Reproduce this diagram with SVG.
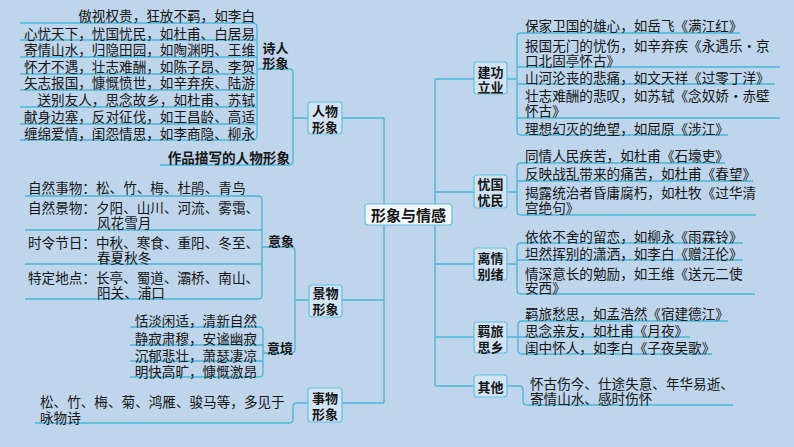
<svg xmlns="http://www.w3.org/2000/svg" width="794" height="447" viewBox="0 0 794 447">
<style>
.ln{stroke:#48b6d6;stroke-width:1.3;fill:none}
.box{fill:#d2e4f4;stroke:#62c2de;stroke-width:1.2}
.cbox{fill:#f2f7fc;stroke:#62c2de;stroke-width:1.2}
text{font-family:"Noto Sans CJK SC","Noto Sans CJK TC",sans-serif;fill:#161616;dominant-baseline:central}
.t{font-size:13.6px;font-weight:400}
.lb{font-size:13px;font-weight:700;text-anchor:middle}
.b{font-size:13.6px;font-weight:700}
.c{font-size:15px;font-weight:700;text-anchor:middle}
.e{text-anchor:end}
</style>
<rect x="0" y="0" width="794" height="447" fill="#bed5eb"/>
<g id="connectors">
<!-- left trunk -->
<path class="ln" d="M384,118 V403 M342,118 H384 M341,300 H384 M342,403 H384"/>
<!-- right trunk -->
<path class="ln" d="M435,79 V386 M435,79 H474 M435,192 H474 M435,264 H474 M435,337 H474 M435,386 H474"/>
<!-- 诗人形象 items -->
<path class="ln" d="M20,23 H253 Q257,23 257,27 V136 Q257,140 253,140 H20 M20,40 H257 M20,57 H257 M20,74 H257 M20,90 H257 M20,107 H257 M20,124 H257"/>
<!-- 人物形象 bracket -->
<path class="ln" d="M257,69 H289 Q293,69 293,73 V161 Q293,165 289,165 H160 M293,118 H308"/>
<!-- 意象 items -->
<path class="ln" d="M25,196 H258 Q262,196 262,200 V295 Q262,299 258,299 H25 M25,230 H262 M25,264 H262"/>
<!-- 景物形象 bracket -->
<path class="ln" d="M262,247 H291 Q295,247 295,251 V349 Q295,353 291,353 H263 M295,300 H309"/>
<!-- 意境 items -->
<path class="ln" d="M130,327 H259 Q263,327 263,331 V373 Q263,377 259,377 H130 M130,345 H263 M130,361 H263"/>
<!-- 事物形象 -->
<path class="ln" d="M308,403 H297 Q293,403 293,407 V419 Q293,423 289,423 H35"/>
<!-- 建功立业 -->
<path class="ln" d="M507,79 H517 M740,33 H521 Q517,33 517,37 V131 Q517,135 521,135 H728 M517,67 H780 M517,84 H775 M517,118 H780"/>
<!-- 忧国忧民 -->
<path class="ln" d="M507,192 H517 M725,163 H521 Q517,163 517,167 V211 Q517,215 521,215 H756 M517,181 H753"/>
<!-- 离情别绪 -->
<path class="ln" d="M507,264 H517 M743,243 H521 Q517,243 517,247 V290 Q517,294 521,294 H755 M517,260 H743"/>
<!-- 羁旅思乡 -->
<path class="ln" d="M507,337 H518 M728,321 H522 Q518,321 518,325 V350 Q518,354 522,354 H712 M518,337 H690"/>
<!-- 其他 -->
<path class="ln" d="M507,386 H519 Q523,386 523,390 V401 Q523,405 527,405 H733"/>
</g>
<g id="center">
<rect class="cbox" x="365" y="204" width="87" height="21" rx="3"/>
<text class="c" x="408.5" y="214.5">形象与情感</text>
</g>
<g id="renwu">
<rect class="box" x="308" y="102" width="34" height="32" rx="3"/>
<text class="lb" x="325" y="110.5">人物</text>
<text class="lb" x="325" y="126">形象</text>
</g>
<g id="shiren">
<text class="lb" x="275.5" y="47">诗人</text>
<text class="lb" x="275.5" y="62">形象</text>
<g class="t e">
<text class="t e" x="255" y="15">傲视权贵，狂放不羁，如李白</text>
<text class="t e" x="255" y="32.5">心忧天下，忧国忧民，如杜甫、白居易</text>
<text class="t e" x="255" y="49">寄情山水，归隐田园，如陶渊明、王维</text>
<text class="t e" x="255" y="65.5">怀才不遇，壮志难酬，如陈子昂、李贺</text>
<text class="t e" x="255" y="82">矢志报国，慷慨愤世，如辛弃疾、陆游</text>
<text class="t e" x="255" y="99">送别友人，思念故乡，如杜甫、苏轼</text>
<text class="t e" x="255" y="116">献身边塞，反对征伐，如王昌龄、高适</text>
<text class="t e" x="255" y="132.5">缠绵爱情，闺怨情思，如李商隐、柳永</text>
</g>
</g>
<g id="zuopin">
<text class="b e" x="290" y="157">作品描写的人物形象</text>
</g>
<g id="jingwu">
<rect class="box" x="309" y="285" width="33" height="32" rx="3"/>
<text class="lb" x="325.5" y="292.5">景物</text>
<text class="lb" x="325.5" y="308.5">形象</text>
</g>
<g id="yixiang">
<text class="lb" x="281" y="240">意象</text>
<text class="t" x="28" y="187">自然事物：松、竹、梅、杜鹃、青鸟</text>
<text class="t" x="28" y="207">自然景物：夕阳、山川、河流、雾霭、</text>
<text class="t" x="97" y="222">风花雪月</text>
<text class="t" x="28" y="242">时令节日：中秋、寒食、重阳、冬至、</text>
<text class="t" x="97" y="257">春夏秋冬</text>
<text class="t" x="28" y="277">特定地点：长亭、蜀道、灞桥、南山、</text>
<text class="t" x="97" y="292">阳关、浦口</text>
</g>
<g id="yijing">
<text class="lb" x="280" y="347">意境</text>
<text class="t e" x="257" y="320">恬淡闲适，清新自然</text>
<text class="t e" x="257" y="338">静寂肃穆，安谧幽寂</text>
<text class="t e" x="257" y="355">沉郁悲壮，萧瑟凄凉</text>
<text class="t e" x="257" y="371">明快高旷，慷慨激昂</text>
</g>
<g id="shiwu">
<rect class="box" x="308" y="388" width="34" height="34" rx="3"/>
<text class="lb" x="325" y="397">事物</text>
<text class="lb" x="325" y="413">形象</text>
<text class="t" x="40" y="401">松、竹、梅、菊、鸿雁、骏马等，多见于</text>
<text class="t" x="40" y="417">咏物诗</text>
</g>
<g id="jiangong">
<rect class="box" x="474" y="62" width="33" height="32" rx="3"/>
<text class="lb" x="490.5" y="71">建功</text>
<text class="lb" x="490.5" y="86">立业</text>
<text class="t" x="525" y="25">保家卫国的雄心，如岳飞《满江红》</text>
<text class="t" x="525" y="45">报国无门的忧伤，如辛弃疾《永遇乐·京</text>
<text class="t" x="525" y="60">口北固亭怀古》</text>
<text class="t" x="525" y="77">山河沦丧的悲痛，如文天祥《过零丁洋》</text>
<text class="t" x="525" y="95">壮志难酬的悲叹，如苏轼《念奴娇·赤壁</text>
<text class="t" x="525" y="110">怀古》</text>
<text class="t" x="525" y="128">理想幻灭的绝望，如屈原《涉江》</text>
</g>
<g id="youguo">
<rect class="box" x="474" y="175" width="33" height="33" rx="3"/>
<text class="lb" x="490.5" y="183">忧国</text>
<text class="lb" x="490.5" y="199">忧民</text>
<text class="t" x="525" y="155">同情人民疾苦，如杜甫《石壕吏》</text>
<text class="t" x="525" y="173">反映战乱带来的痛苦，如杜甫《春望》</text>
<text class="t" x="525" y="192">揭露统治者昏庸腐朽，如杜牧《过华清</text>
<text class="t" x="525" y="207">宫绝句》</text>
</g>
<g id="liqing">
<rect class="box" x="474" y="248" width="33" height="32" rx="3"/>
<text class="lb" x="490.5" y="257">离情</text>
<text class="lb" x="490.5" y="273">别绪</text>
<text class="t" x="525" y="236">依依不舍的留恋，如柳永《雨霖铃》</text>
<text class="t" x="525" y="253">坦然挥别的潇洒，如李白《赠汪伦》</text>
<text class="t" x="525" y="273">情深意长的勉励，如王维《送元二使</text>
<text class="t" x="525" y="287">安西》</text>
</g>
<g id="jilv">
<rect class="box" x="474" y="322" width="33" height="31" rx="3"/>
<text class="lb" x="490.5" y="330.5">羁旅</text>
<text class="lb" x="490.5" y="346">思乡</text>
<text class="t" x="525" y="313">羁旅愁思，如孟浩然《宿建德江》</text>
<text class="t" x="525" y="330">思念亲友，如杜甫《月夜》</text>
<text class="t" x="525" y="347">闺中怀人，如李白《子夜吴歌》</text>
</g>
<g id="qita">
<rect class="box" x="474" y="375" width="33" height="22" rx="3"/>
<text class="lb" x="490.5" y="386">其他</text>
<text class="t" x="530" y="383">怀古伤今、仕途失意、年华易逝、</text>
<text class="t" x="530" y="398">寄情山水、感时伤怀</text>
</g>
</svg>
